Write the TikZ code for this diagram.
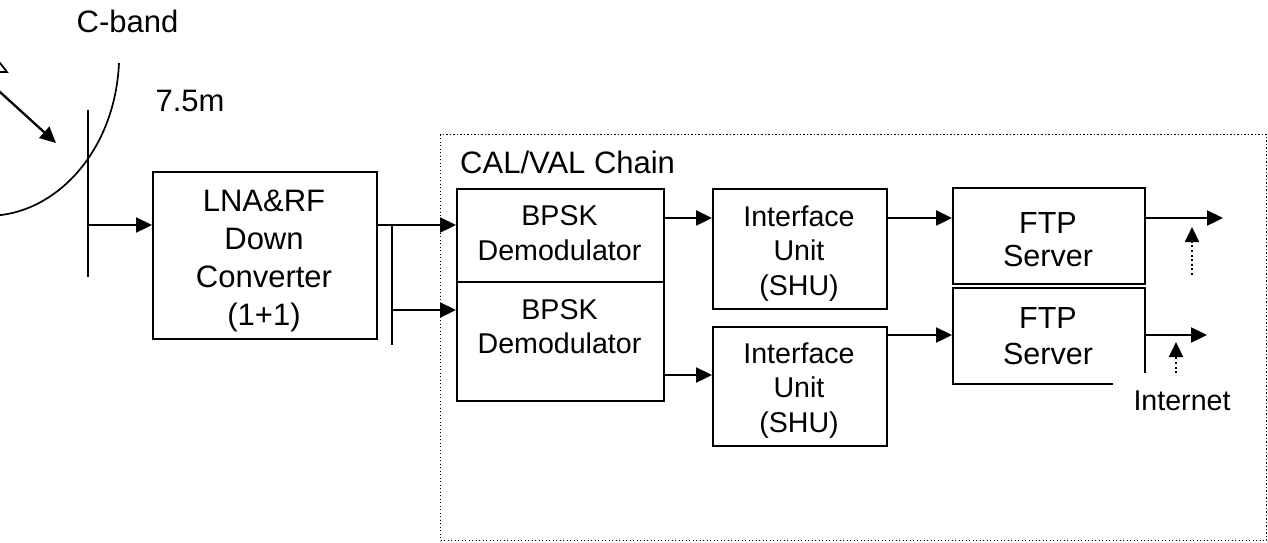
\documentclass[tikz,border=0pt]{standalone}
\usepackage{fontspec}
\setmainfont{Liberation Sans}
\usetikzlibrary{arrows.meta}
% centred multi-line text whose baseline is the baseline of its first line
\newcommand\stacktext[1]{\begin{tabular}[t]{@{}c@{}}#1\end{tabular}}

\begin{document}
\begin{tikzpicture}[x=1pt,y=-1pt,
  wire/.style={line width=2.3pt},
  arr/.style={wire,-{Triangle[length=16pt,width=15pt]}},
  dotarr/.style={line width=2pt,dash pattern=on 2pt off 2.6pt,-{Triangle[length=15pt,width=14pt]}},
  block/.style={draw,line width=2.3pt,inner sep=0pt,anchor=north west},
  thin/.style={line width=1.7pt},
  txt/.style={inner sep=0pt,anchor=base},
  big/.style={font=\fontsize{31}{38.3}\selectfont},
  small/.style={font=\fontsize{28.6}{35}\selectfont},
]
\useasboundingbox (0,0) rectangle (1268,542);
\fill[white] (0,0) rectangle (1268,542);
\clip (0,0) rectangle (1268,542);

% --- antenna dish, feed and mast ---
\draw[thin] (119,63) .. controls (115,150) and (58,211) .. (-4,215.5);
\draw[thin] (-15,43.7) -- (7,72) -- (-15,72);
\coordinate (beam) at (-10,82.9);
\coordinate (focus) at (56,143);
\draw[arr] (beam) -- (focus);
\coordinate (mastT) at (88,110);
\coordinate (mastB) at (88,277);
\coordinate (feed) at (88,225);
\draw[wire] (mastT) -- (mastB);

\node[txt,big] (cband) at (127.5,32) {C-band};
\node[txt,big] (dia) at (190,111) {7.5m};

% --- CAL/VAL chain frame ---
\node[draw,line width=1.3pt,dash pattern=on 1.3pt off 2.2pt,inner sep=0pt,anchor=north west,
      minimum width=826pt,minimum height=406pt] (chain) at (440,134) {};
\node[txt,big,anchor=base west] (chainT) at (460,173) {CAL/VAL Chain};

% --- blocks ---
\node[block,minimum width=224pt,minimum height=167pt] (lna) at (152,171) {};
\node[block,minimum width=207pt,minimum height=93pt] (bpskA) at (456,188) {};
\node[block,minimum width=207pt,minimum height=119pt] (bpskB) at (456,281) {};
\node[block,minimum width=174pt,minimum height=120pt] (ifA) at (712,188) {};
\node[block,minimum width=174pt,minimum height=119pt] (ifB) at (712,326) {};
\node[block,minimum width=192pt,minimum height=96pt] (ftpA) at (952,187) {};
\node[block,minimum width=192pt,minimum height=96pt] (ftpB) at (952,287) {};

% --- block texts ---
\node[txt,big] (lnaT) at (264,211) {\stacktext{LNA\&RF\\Down\\Converter\\(1+1)}};
\node[txt,small] (bpskAT) at (559.5,225) {\stacktext{BPSK\\Demodulator}};
\node[txt,font=\fontsize{28.6}{34}\selectfont] (bpskBT) at (559.5,319) {\stacktext{BPSK\\Demodulator}};
\node[txt,font=\fontsize{28.6}{34.5}\selectfont] (ifAT) at (799,226) {\stacktext{Interface\\Unit\\(SHU)}};
\node[txt,font=\fontsize{28.6}{34.5}\selectfont] (ifBT) at (799,363) {\stacktext{Interface\\Unit\\(SHU)}};
\node[txt,font=\fontsize{30.5}{33.4}\selectfont] (ftpAT) at (1048,233) {\stacktext{FTP\\Server}};
\node[txt,font=\fontsize{30.5}{36.5}\selectfont] (ftpBT) at (1048,328) {\stacktext{FTP\\Server}};

% --- signal path ---
\draw[arr] (feed) -- (feed -| lna.west);
\coordinate (split) at (392,225);
\coordinate (splitB) at (392,345);
\coordinate (tap) at (392,310);
\draw[arr] (lna.east |- split) -- (split -| bpskA.west);
\draw[wire] (split) -- (splitB);
\draw[arr] (tap) -- (tap -| bpskB.west);

\coordinate (row1) at (0,218);
\coordinate (rowB) at (0,375);
\coordinate (row2) at (0,335);
\draw[arr] (bpskA.east |- row1) -- (ifA.west |- row1);
\draw[arr] (ifA.east |- row1) -- (ftpA.west |- row1);
\draw[arr] (bpskB.east |- rowB) -- (ifB.west |- rowB);
\draw[arr] (ifB.east |- row2) -- (ftpB.west |- row2);

\coordinate (outA) at (1223,218);
\coordinate (outB) at (1207,335);
\draw[arr] (ftpA.east |- outA) -- (outA);
\draw[arr] (ftpB.east |- outB) -- (outB);

% --- internet uplinks ---
\coordinate (upA) at (1192,227);
\coordinate (upAfoot) at (1192,275);
\draw[dotarr] (upAfoot) -- (upA);
\node[txt,small,fill=white,inner xsep=21pt,inner ysep=17pt] (inet) at (1182,410) {Internet};
\coordinate (upB) at (1176,342);
\draw[dotarr] (inet.north -| upB) -- (upB);
\end{tikzpicture}
\end{document}
